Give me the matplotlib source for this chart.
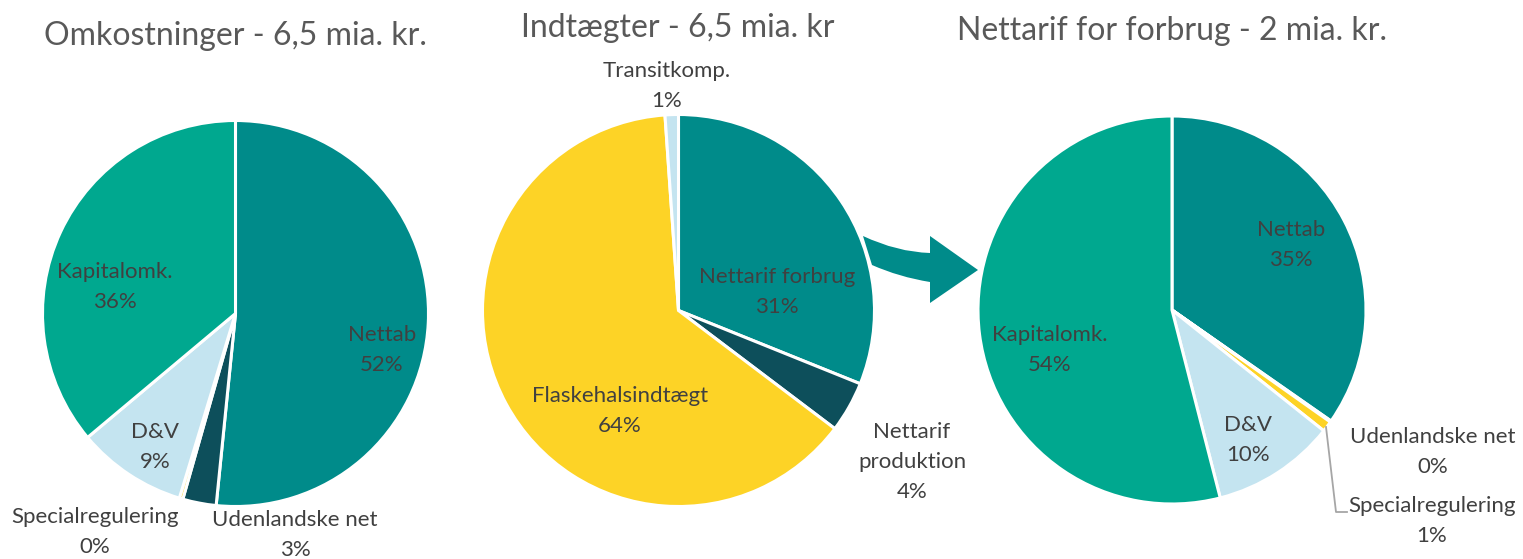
#!/usr/bin/env python3
"""Tre cirkeldiagrammer: omkostninger, indtægter og nettarif for forbrug."""
import matplotlib
matplotlib.use("Agg")
import matplotlib.pyplot as plt
from matplotlib.path import Path
from matplotlib.patches import PathPatch

plt.rcParams["font.family"] = ["Lato", "DejaVu Sans"]

W, H = 1523, 559

TEAL = "#008B8A"
GREEN = "#00A88F"
DARK = "#0D4F5B"
LIGHT = "#C4E4F0"
YELLOW = "#FDD326"

# --- data (andele i %) ---
cost_title = "Omkostninger - 6,5 mia. kr."
cost_labels = ["Nettab", "Udenlandske net", "Specialregulering", "D&V", "Kapitalomk."]
cost_values = [51.6, 2.8, 0.3, 9.2, 36.1]
cost_colors = [TEAL, DARK, YELLOW, LIGHT, GREEN]

income_title = "Indtægter - 6,5 mia. kr"
income_labels = ["Nettarif forbrug", "Nettarif\nproduktion", "Flaskehalsindtægt", "Transitkomp."]
income_values = [31.1, 4.2, 63.6, 1.1]
income_colors = [TEAL, DARK, YELLOW, LIGHT]

tariff_title = "Nettarif for forbrug - 2 mia. kr."
tariff_labels = ["Nettab", "Udenlandske net", "Specialregulering", "D&V", "Kapitalomk."]
tariff_values = [34.7, 0.1, 0.9, 10.3, 54.0]
tariff_colors = [TEAL, DARK, YELLOW, LIGHT, GREEN]

# --- layout (pixel coords, y downwards) ---
pies = [
    dict(title=cost_title, labels=cost_labels, values=cost_values, colors=cost_colors,
         center=(235.5, 313.5), radius=193, title_xy=(235, 36),
         label_xy=[(382, 350), (295, 535), (95, 532), (155, 447), (115, 287)]),
    dict(title=income_title, labels=income_labels, values=income_values, colors=income_colors,
         center=(678.5, 310.5), radius=196, title_xy=(678, 28),
         label_xy=[(777, 292), (912, 462), (620, 411), (667, 86)]),
    dict(title=tariff_title, labels=tariff_labels, values=tariff_values, colors=tariff_colors,
         center=(1172, 310), radius=194, title_xy=(1172, 31),
         label_xy=[(1291, 245), (1433, 452), (1432, 521), (1248, 440), (1050, 350)]),
]


def Y(py):
    return H - py


fig = plt.figure(figsize=(W / 100, H / 100), dpi=100)
ax = fig.add_axes([0, 0, 1, 1])

for p in pies:
    cx, cy = p["center"]
    ax.pie(p["values"], colors=p["colors"], startangle=90, counterclock=False,
           center=(cx, Y(cy)), radius=p["radius"],
           wedgeprops=dict(edgecolor="white", linewidth=2.2))
    tx, ty = p["title_xy"]
    ax.text(tx, Y(ty), p["title"], ha="center", va="center", fontsize=23, color="#595959")
    for lab, val, (lx, ly) in zip(p["labels"], p["values"], p["label_xy"]):
        ax.text(lx, Y(ly), f"{lab}\n{round(val):d}%", ha="center", va="center",
                fontsize=16, color="#404040", linespacing=1.62)

# leader line for Specialregulering in the right pie
ax.plot([1326, 1336, 1347], [Y(427), Y(512), Y(512)], color="#A6A6A6", lw=1.3)

# curved arrow between the middle and right pie
verts = [(863, 236), (897, 252), (930, 253), (930, 236), (978, 270), (930, 303),
         (930, 282), (899, 277), (872, 265), (863, 236)]
codes = [Path.MOVETO, Path.CURVE3, Path.CURVE3, Path.LINETO, Path.LINETO, Path.LINETO,
         Path.LINETO, Path.CURVE3, Path.CURVE3, Path.CLOSEPOLY]
arrow = Path([(x, Y(y)) for x, y in verts], codes)
ax.add_patch(PathPatch(arrow, facecolor=TEAL, edgecolor="none"))

ax.set_xlim(0, W)
ax.set_ylim(0, H)
ax.set_aspect("auto")
ax.axis("off")

fig.savefig("out.png", dpi=100)
